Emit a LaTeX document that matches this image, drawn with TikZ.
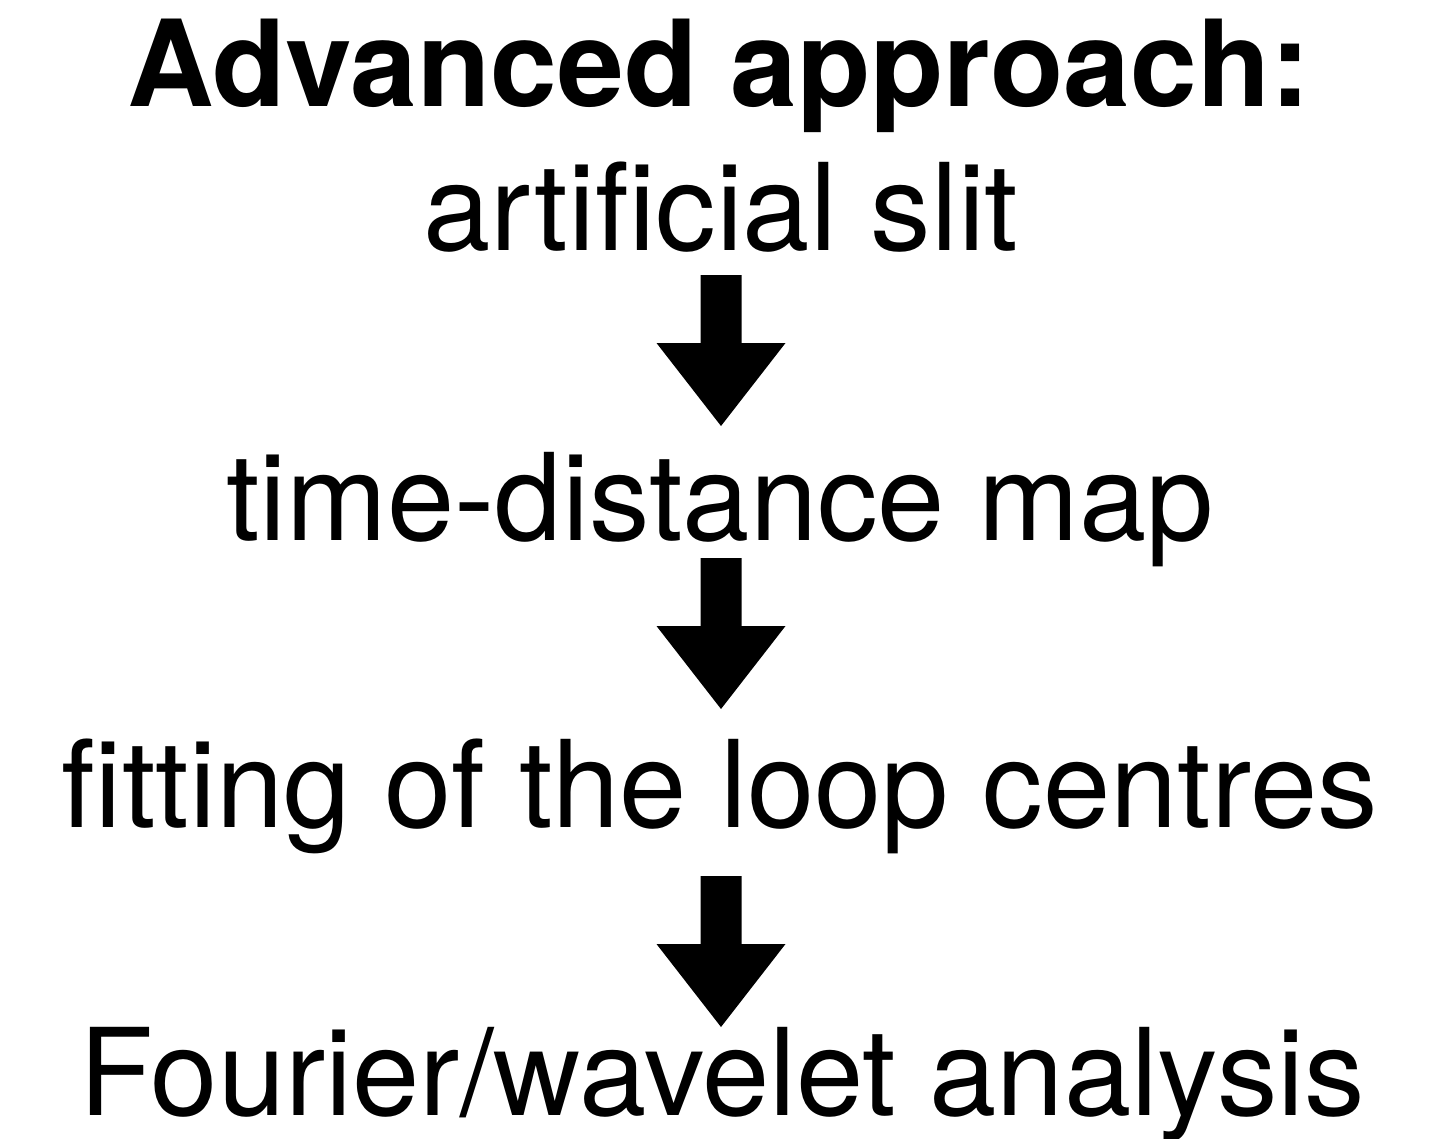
\documentclass[tikz,border=0pt]{standalone}
\usepackage{fontspec}
\setmainfont{TeX Gyre Heros}
\begin{document}
\begin{tikzpicture}[x=1pt,y=-1pt,
  lbl/.style={anchor=base,inner sep=0pt,font=\fontsize{121}{140}\selectfont},
  ttl/.style={anchor=base,inner sep=0pt,font=\fontsize{120}{140}\selectfont\bfseries},
  blk/.style={fill=black,draw=none}]
\useasboundingbox (0,0) rectangle (1435,1138);
\node[ttl] (title) at (719,106) {Advanced approach:};
\node[lbl] (slit) at (721,250) {artificial slit};
\node[lbl] (tdmap) at (720,540) {time-distance map};
\node[lbl] (fit) at (720,827) {fitting of the loop centres};
\node[lbl] (four) at (722,1115) {Fourier/wavelet analysis};
\newcommand{\blockarr}[2]{%
  \fill[blk] (#1-20.5,#2) -- (#1+20.5,#2) -- (#1+20.5,#2+68) -- (#1+64.5,#2+68)
    -- (#1,#2+151) -- (#1-64.5,#2+68) -- (#1-20.5,#2+68) -- cycle;}
\blockarr{721}{275}
\blockarr{721}{558}
\blockarr{721}{876}
\end{tikzpicture}
\end{document}
